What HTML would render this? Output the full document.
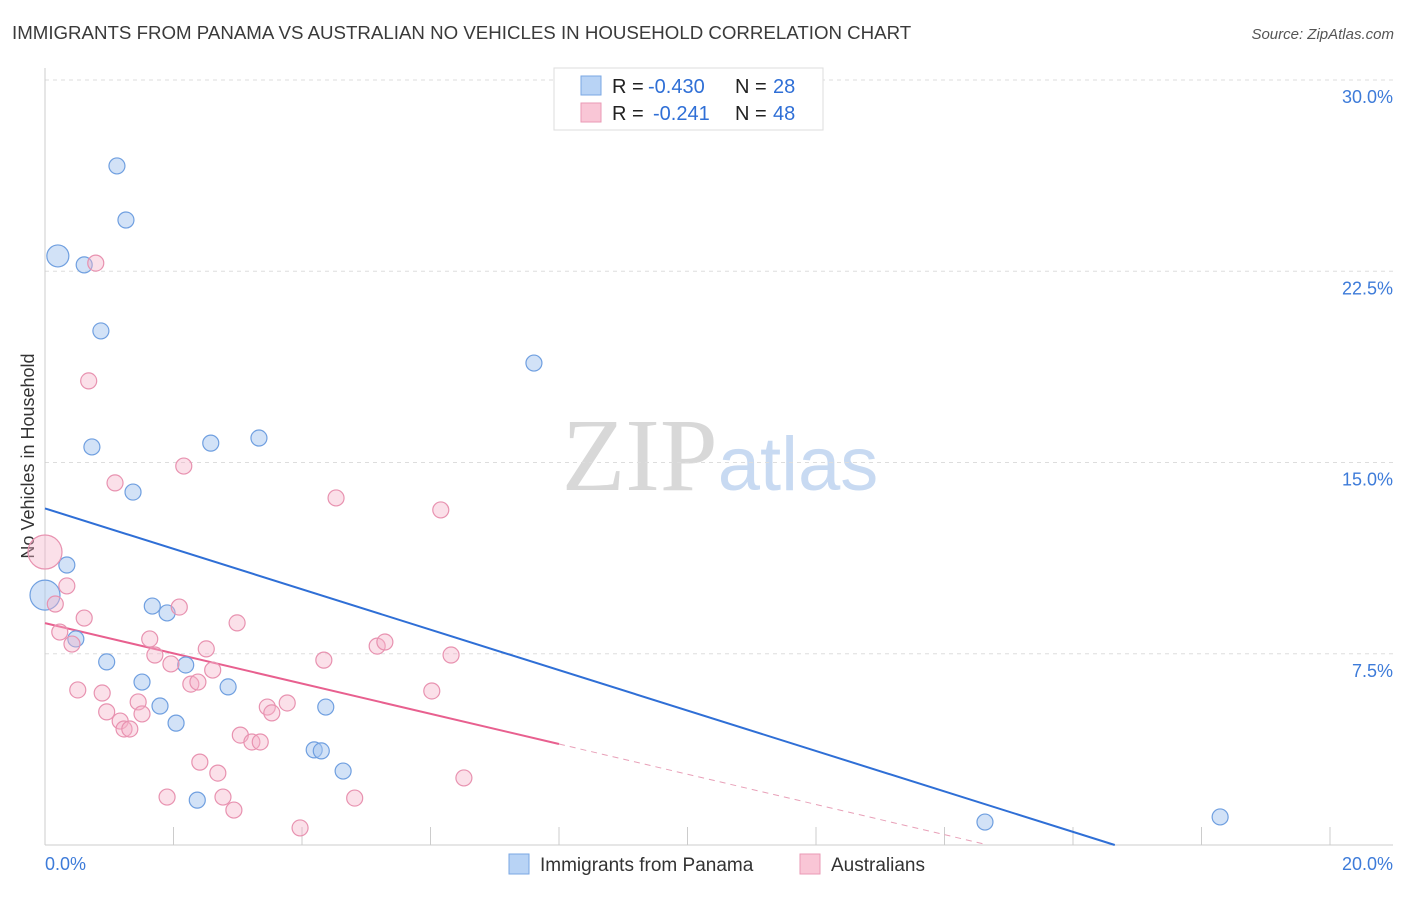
<!DOCTYPE html>
<html><head><meta charset="utf-8"><style>
body{margin:0;background:#fff;font-family:"Liberation Sans",sans-serif;}
svg text{font-family:"Liberation Sans",sans-serif;}
</style></head><body>
<svg id="chart" width="1406" height="892" viewBox="0 0 1406 892">
<text x="12" y="39" font-size="18.7" fill="#3a3a3a">IMMIGRANTS FROM PANAMA VS AUSTRALIAN NO VEHICLES IN HOUSEHOLD CORRELATION CHART</text>
<text x="1394" y="39" font-size="15" fill="#555" text-anchor="end" font-style="italic">Source: ZipAtlas.com</text>
<text x="720" y="490" font-size="104" text-anchor="middle"><tspan fill="#d8d8d8" font-family="Liberation Serif">ZIP</tspan><tspan fill="#c8daf2" font-size="76">atlas</tspan></text>
<text transform="translate(34,456) rotate(-90)" font-size="18" fill="#333" text-anchor="middle">No Vehicles in Household</text>
<g id="grid"></g><g id="axes"></g><g id="lines"></g><g id="points"></g>
<g>
<rect x="554" y="68" width="269" height="62" fill="#fff" stroke="#ddd"/>
<rect x="581" y="76" width="20" height="19" fill="#b8d3f5" stroke="#7aa7e3"/>
<rect x="581" y="103" width="20" height="19" fill="#f9c6d6" stroke="#ea9ab5"/>
<text x="612" y="93" font-size="20" fill="#222">R =</text>
<text x="648" y="93" font-size="20" fill="#2f6fd6">-0.430</text>
<text x="735" y="93" font-size="20" fill="#222">N =</text>
<text x="773" y="93" font-size="20" fill="#2f6fd6">28</text>
<text x="612" y="120" font-size="20" fill="#222">R =</text>
<text x="653" y="120" font-size="20" fill="#2f6fd6">-0.241</text>
<text x="735" y="120" font-size="20" fill="#222">N =</text>
<text x="773" y="120" font-size="20" fill="#2f6fd6">48</text>
</g>
<g>
<rect x="509" y="854" width="20" height="20" fill="#b8d3f5" stroke="#7aa7e3"/>
<text x="540" y="871" font-size="19" fill="#333">Immigrants from Panama</text>
<rect x="800" y="854" width="20" height="20" fill="#f9c6d6" stroke="#ea9ab5"/>
<text x="831" y="871" font-size="19" fill="#333">Australians</text>
</g>
</svg>
<script>
const blueX=[1.12,1.26,0.20,0.61,0.87,7.61,0.73,2.58,3.33,1.37,0.34,0.0,1.67,1.90,0.48,0.96,2.19,1.51,2.85,1.79,2.04,4.37,4.19,4.30,4.64,2.37,14.63,18.29];
const blueY=[26.63,24.51,23.10,22.75,20.16,18.90,15.61,15.76,15.96,13.84,10.98,9.80,9.37,9.10,8.08,7.18,7.06,6.39,6.20,5.45,4.78,5.41,3.73,3.69,2.90,1.76,0.90,1.10];
const blueR=[8,8,11,8,8,8,8,8,8,8,8,15,8,8,8,8,8,8,8,8,8,8,8,8,8,8,8,8];
const pinkX=[0.79,0.68,2.16,1.09,4.53,6.16,0,0.34,0.16,0.61,0.23,0.42,2.09,2.99,1.63,1.71,2.51,1.96,4.34,5.17,5.29,6.32,2.61,0.51,0.89,2.27,2.38,6.02,1.45,0.96,1.51,1.17,1.23,1.32,3.46,3.77,3.53,3.04,3.22,3.35,2.41,2.69,6.52,1.90,2.77,4.82,2.94,3.97];
const pinkY=[22.82,18.20,14.86,14.20,13.61,13.14,11.49,10.16,9.45,8.90,8.35,7.88,9.33,8.71,8.08,7.45,7.69,7.10,7.25,7.80,7.96,7.45,6.86,6.08,5.96,6.31,6.39,6.04,5.61,5.22,5.14,4.86,4.55,4.55,5.41,5.57,5.18,4.31,4.04,4.04,3.25,2.82,2.63,1.88,1.88,1.84,1.37,0.67];
const yTicks=[7.5,15,22.5,30];
const yTickLabels=["7.5%","15.0%","22.5%","30.0%"];
const blueTrend=[13.2,0,16.65];
const pinkTrend=[8.7,3.96,8,14.6];
const NS="http://www.w3.org/2000/svg";
const sx=v=>45+v*64.25, sy=v=>845-v*25.5;
function mk(t,a,p){const e=document.createElementNS(NS,t);for(const k in a)e.setAttribute(k,a[k]);document.getElementById(p).appendChild(e);return e;}
yTicks.forEach((t,i)=>{
 const g=mk('line',{x1:45,x2:1393,y1:sy(t),y2:sy(t),stroke:'#ddd','stroke-dasharray':'4,4'},'grid');
 
 
 const l=mk('text',{x:1393,y:sy(t)+23,'font-size':18,fill:'#3d7bd9','text-anchor':'end'},'grid');
 
 
 l.textContent=yTickLabels[i];
});
let a=mk('line',{x1:45,x2:45,y1:68,y2:845,stroke:'#ccc'},'axes');


a=mk('line',{x1:45,x2:1393,y1:845,y2:845,stroke:'#ccc'},'axes');


for(let i=0;i<=10;i++){const t=mk('line',{x1:sx(i*2),x2:sx(i*2),y1:827,y2:845,stroke:'#ccc'},'axes');
 
 }
let xl=mk('text',{x:45,y:870,'font-size':18,fill:'#3d7bd9'},'axes');xl.textContent='0.0%';


xl=mk('text',{x:1393,y:870,'font-size':18,fill:'#3d7bd9','text-anchor':'end'},'axes');xl.textContent='20.0%';


blueX.forEach((x,i)=>{const c=mk('circle',{cx:sx(x),cy:sy(blueY[i]),r:blueR[i],fill:'rgba(165,198,240,0.5)',stroke:'#6f9fe0','stroke-width':1.2},'points');
 
 });
pinkX.forEach((x,i)=>{const c=mk('circle',{cx:sx(x),cy:sy(pinkY[i]),r:i==6?17:8,fill:'rgba(246,178,200,0.4)',stroke:'#e892b0','stroke-width':1.2},'points');
 
 });
let ln=mk('line',{x1:sx(0),y1:sy(blueTrend[0]),x2:sx(blueTrend[2]),y2:sy(blueTrend[1]),stroke:'#2f6fd6','stroke-width':2},'lines');


ln=mk('line',{x1:sx(0),y1:sy(pinkTrend[0]),x2:sx(pinkTrend[2]),y2:sy(pinkTrend[1]),stroke:'#e8608f','stroke-width':2},'lines');


const slope=(pinkTrend[1]-pinkTrend[0])/pinkTrend[2];
ln=mk('line',{x1:sx(pinkTrend[2]),y1:sy(pinkTrend[1]),x2:sx(pinkTrend[3]),y2:sy(Math.max(0,pinkTrend[0]+slope*pinkTrend[3])),stroke:'#e8a0b8','stroke-width':1,'stroke-dasharray':'6,5'},'lines');


</script>
</body></html>
